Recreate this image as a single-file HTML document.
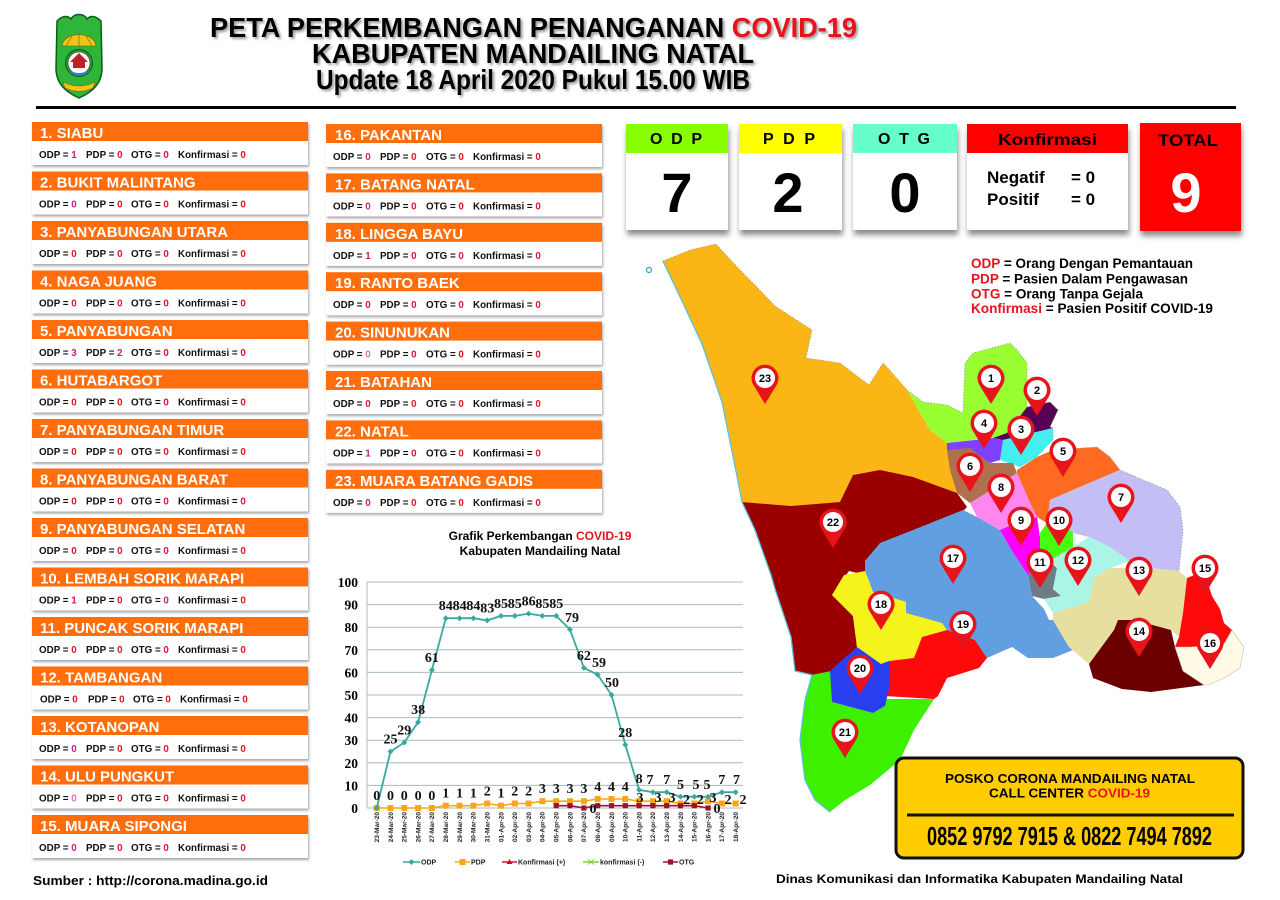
<!DOCTYPE html>
<html><head><meta charset="utf-8"><title>Peta Perkembangan COVID-19 Mandailing Natal</title>
<style>
html,body{margin:0;padding:0;background:#fff;}
svg{display:block;}
.sans{font-family:"Liberation Sans",Arial,sans-serif;font-weight:bold;}
.h{font-family:"Liberation Sans",Arial,sans-serif;font-weight:bold;font-size:15px;fill:#fff;}
.b{font-family:"Liberation Sans",Arial,sans-serif;font-weight:bold;font-size:9.8px;fill:#111;}
.r{fill:#e0142a;} .m{fill:#c21f8a;}
.ser{font-family:"Liberation Serif","Times New Roman",serif;}
.pn{font-family:"Liberation Sans",Arial,sans-serif;font-weight:bold;font-size:11px;fill:#000;text-anchor:middle;}
.xl{font-family:"Liberation Sans",Arial,sans-serif;font-weight:bold;font-size:6.5px;fill:#222;text-anchor:end;}
.lg{font-family:"Liberation Sans",Arial,sans-serif;font-weight:bold;font-size:7px;fill:#222;}
</style></head>
<body>
<svg width="1280" height="900" viewBox="0 0 1280 900" xmlns="http://www.w3.org/2000/svg">
<defs>
<filter id="cs" x="-5%" y="-10%" width="112%" height="140%"><feDropShadow dx="1" dy="2" stdDeviation="1.2" flood-color="#000" flood-opacity="0.35"/></filter>
<filter id="bs" x="-10%" y="-10%" width="125%" height="130%"><feDropShadow dx="1" dy="5" stdDeviation="3" flood-color="#000" flood-opacity="0.45"/></filter>
<filter id="tb" x="-5%" y="-30%" width="110%" height="160%"><feGaussianBlur stdDeviation="1.2"/></filter>
<g id="pin"><path d="M0,26 L-11,8 A13.5 13.5 0 1 1 11,8 Z" fill="#e8141c"/><circle cx="0" cy="0" r="10" fill="#fff"/></g>
<path id="dm" d="M0,-3 L3,0 L0,3 L-3,0Z" fill="#3aa99c"/>
<rect id="sq" x="-3" y="-3" width="6" height="6" fill="#f9a61a"/>
<rect id="oq" x="-2.6" y="-2.6" width="5.2" height="5.2" fill="#a0102a"/>
</defs>

<rect width="1280" height="900" fill="#fff"/>

<!-- Logo -->
<g>
<path d="M57,21 C62,16 67,15 71,19 C74,13 84,13 87,19 C91,15 96,16 101,21 L102,68 C102,84 92,92 79,98 C66,92 56,84 56,68 Z" fill="#2fb53a" stroke="#0b5d16" stroke-width="1.5"/>
<path d="M62,46 C63,31 95,31 96,46 Z" fill="#f3c21a" stroke="#7a5a00" stroke-width=".6"/>
<path d="M66,46 L72,36 M79,46 L79,34 M92,46 L86,36" stroke="#7a5a00" stroke-width=".6"/>
<ellipse cx="79" cy="63" rx="13.5" ry="13.5" fill="#2a9a35" stroke="#0b5d16"/>
<ellipse cx="79" cy="63" rx="11" ry="11" fill="#fff" stroke="#333" stroke-width=".6"/>
<path d="M70,62 L79,53 L88,62 L85,62 L85,68 L73,68 L73,62Z" fill="#c0202a"/>
<path d="M69,70 Q79,76 89,70 L89,72 Q79,79 69,72Z" fill="#3a7ad0"/>
<path d="M63,82 Q79,90 95,82 L93,88 Q79,95 65,88 Z" fill="#f3c21a" stroke="#7a5a00" stroke-width=".5"/>
</g>

<!-- Title -->
<g class="sans" font-size="28">
<g filter="url(#tb)" fill="#9a9a9a">
<text x="212" y="39" textLength="647" lengthAdjust="spacingAndGlyphs">PETA PERKEMBANGAN PENANGANAN COVID-19</text>
<text x="314" y="65" textLength="442" lengthAdjust="spacingAndGlyphs">KABUPATEN MANDAILING NATAL</text>
<text x="318" y="91" textLength="434" lengthAdjust="spacingAndGlyphs">Update 18 April 2020 Pukul 15.00 WIB</text>
</g>
<text x="210" y="37" textLength="647" lengthAdjust="spacingAndGlyphs" fill="#000">PETA PERKEMBANGAN PENANGANAN <tspan fill="#e8121c">COVID-19</tspan></text>
<text x="312" y="63" textLength="442" lengthAdjust="spacingAndGlyphs" fill="#000">KABUPATEN MANDAILING NATAL</text>
<text x="316" y="89" textLength="434" lengthAdjust="spacingAndGlyphs" fill="#000">Update 18 April 2020 Pukul 15.00 WIB</text>
</g>
<rect x="36" y="106" width="1200" height="3" fill="#000"/>

<!-- Left column cards -->
<g transform="translate(32,122)"><rect width="276" height="43" fill="#fff" filter="url(#cs)"/><rect width="276" height="19" fill="#ff6d0c"/><text class="h" x="8" y="16">1. SIABU</text><text class="b" y="36"><tspan x="7">ODP = </tspan><tspan class="m">1</tspan><tspan x="54">PDP = </tspan><tspan class="r">0</tspan><tspan x="99">OTG = </tspan><tspan class="r">0</tspan><tspan x="146">Konfirmasi = </tspan><tspan class="r">0</tspan></text></g>
<g transform="translate(32,171.5)"><rect width="276" height="43" fill="#fff" filter="url(#cs)"/><rect width="276" height="19" fill="#ff6d0c"/><text class="h" x="8" y="16">2. BUKIT MALINTANG</text><text class="b" y="36"><tspan x="7">ODP = </tspan><tspan class="m">0</tspan><tspan x="54">PDP = </tspan><tspan class="r">0</tspan><tspan x="99">OTG = </tspan><tspan class="r">0</tspan><tspan x="146">Konfirmasi = </tspan><tspan class="r">0</tspan></text></g>
<g transform="translate(32,221)"><rect width="276" height="43" fill="#fff" filter="url(#cs)"/><rect width="276" height="19" fill="#ff6d0c"/><text class="h" x="8" y="16">3. PANYABUNGAN UTARA</text><text class="b" y="36"><tspan x="7">ODP = </tspan><tspan class="r">0</tspan><tspan x="54">PDP = </tspan><tspan class="r">0</tspan><tspan x="99">OTG = </tspan><tspan class="r">0</tspan><tspan x="146">Konfirmasi = </tspan><tspan class="r">0</tspan></text></g>
<g transform="translate(32,270.5)"><rect width="276" height="43" fill="#fff" filter="url(#cs)"/><rect width="276" height="19" fill="#ff6d0c"/><text class="h" x="8" y="16">4. NAGA JUANG</text><text class="b" y="36"><tspan x="7">ODP = </tspan><tspan class="r">0</tspan><tspan x="54">PDP = </tspan><tspan class="r">0</tspan><tspan x="99">OTG = </tspan><tspan class="r">0</tspan><tspan x="146">Konfirmasi = </tspan><tspan class="r">0</tspan></text></g>
<g transform="translate(32,320)"><rect width="276" height="43" fill="#fff" filter="url(#cs)"/><rect width="276" height="19" fill="#ff6d0c"/><text class="h" x="8" y="16">5. PANYABUNGAN</text><text class="b" y="36"><tspan x="7">ODP = </tspan><tspan class="m">3</tspan><tspan x="54">PDP = </tspan><tspan class="m">2</tspan><tspan x="99">OTG = </tspan><tspan class="r">0</tspan><tspan x="146">Konfirmasi = </tspan><tspan class="r">0</tspan></text></g>
<g transform="translate(32,369.5)"><rect width="276" height="43" fill="#fff" filter="url(#cs)"/><rect width="276" height="19" fill="#ff6d0c"/><text class="h" x="8" y="16">6. HUTABARGOT</text><text class="b" y="36"><tspan x="7">ODP = </tspan><tspan class="r">0</tspan><tspan x="54">PDP = </tspan><tspan class="r">0</tspan><tspan x="99">OTG = </tspan><tspan class="r">0</tspan><tspan x="146">Konfirmasi = </tspan><tspan class="r">0</tspan></text></g>
<g transform="translate(32,419)"><rect width="276" height="43" fill="#fff" filter="url(#cs)"/><rect width="276" height="19" fill="#ff6d0c"/><text class="h" x="8" y="16">7. PANYABUNGAN TIMUR</text><text class="b" y="36"><tspan x="7">ODP = </tspan><tspan class="r">0</tspan><tspan x="54">PDP = </tspan><tspan class="r">0</tspan><tspan x="99">OTG = </tspan><tspan class="r">0</tspan><tspan x="146">Konfirmasi = </tspan><tspan class="r">0</tspan></text></g>
<g transform="translate(32,468.5)"><rect width="276" height="43" fill="#fff" filter="url(#cs)"/><rect width="276" height="19" fill="#ff6d0c"/><text class="h" x="8" y="16">8. PANYABUNGAN BARAT</text><text class="b" y="36"><tspan x="7">ODP = </tspan><tspan class="r">0</tspan><tspan x="54">PDP = </tspan><tspan class="r">0</tspan><tspan x="99">OTG = </tspan><tspan class="r">0</tspan><tspan x="146">Konfirmasi = </tspan><tspan class="r">0</tspan></text></g>
<g transform="translate(32,518)"><rect width="276" height="43" fill="#fff" filter="url(#cs)"/><rect width="276" height="19" fill="#ff6d0c"/><text class="h" x="8" y="16">9. PANYABUNGAN SELATAN</text><text class="b" y="36"><tspan x="7">ODP = </tspan><tspan class="r">0</tspan><tspan x="54">PDP = </tspan><tspan class="r">0</tspan><tspan x="99">OTG = </tspan><tspan class="r">0</tspan><tspan x="146">Konfirmasi = </tspan><tspan class="r">0</tspan></text></g>
<g transform="translate(32,567.5)"><rect width="276" height="43" fill="#fff" filter="url(#cs)"/><rect width="276" height="19" fill="#ff6d0c"/><text class="h" x="8" y="16">10. LEMBAH SORIK MARAPI</text><text class="b" y="36"><tspan x="7">ODP = </tspan><tspan class="r">1</tspan><tspan x="54">PDP = </tspan><tspan class="r">0</tspan><tspan x="99">OTG = </tspan><tspan class="m">0</tspan><tspan x="146">Konfirmasi = </tspan><tspan class="r">0</tspan></text></g>
<g transform="translate(32,617)"><rect width="276" height="43" fill="#fff" filter="url(#cs)"/><rect width="276" height="19" fill="#ff6d0c"/><text class="h" x="8" y="16">11. PUNCAK SORIK MARAPI</text><text class="b" y="36"><tspan x="7">ODP = </tspan><tspan class="r">0</tspan><tspan x="54">PDP = </tspan><tspan class="r">0</tspan><tspan x="99">OTG = </tspan><tspan class="r">0</tspan><tspan x="146">Konfirmasi = </tspan><tspan class="r">0</tspan></text></g>
<g transform="translate(32,666.5)"><rect width="276" height="43" fill="#fff" filter="url(#cs)"/><rect width="276" height="19" fill="#ff6d0c"/><text class="h" x="8" y="16">12. TAMBANGAN</text><text class="b" y="36"><tspan x="8">ODP = </tspan><tspan class="r">0</tspan><tspan x="56">PDP = </tspan><tspan class="r">0</tspan><tspan x="101">OTG = </tspan><tspan class="r">0</tspan><tspan x="148">Konfirmasi = </tspan><tspan class="r">0</tspan></text></g>
<g transform="translate(32,716)"><rect width="276" height="43" fill="#fff" filter="url(#cs)"/><rect width="276" height="19" fill="#ff6d0c"/><text class="h" x="8" y="16">13. KOTANOPAN</text><text class="b" y="36"><tspan x="7">ODP = </tspan><tspan class="m">0</tspan><tspan x="54">PDP = </tspan><tspan class="r">0</tspan><tspan x="99">OTG = </tspan><tspan class="r">0</tspan><tspan x="146">Konfirmasi = </tspan><tspan class="r">0</tspan></text></g>
<g transform="translate(32,765.5)"><rect width="276" height="43" fill="#fff" filter="url(#cs)"/><rect width="276" height="19" fill="#ff6d0c"/><text class="h" x="8" y="16">14. ULU PUNGKUT</text><text class="b" y="36"><tspan x="7">ODP = </tspan><tspan fill="#e070c0">0</tspan><tspan x="54">PDP = </tspan><tspan class="r">0</tspan><tspan x="99">OTG = </tspan><tspan class="r">0</tspan><tspan x="146">Konfirmasi = </tspan><tspan class="r">0</tspan></text></g>
<g transform="translate(32,815)"><rect width="276" height="43" fill="#fff" filter="url(#cs)"/><rect width="276" height="19" fill="#ff6d0c"/><text class="h" x="8" y="16">15. MUARA SIPONGI</text><text class="b" y="36"><tspan x="7">ODP = </tspan><tspan class="m">0</tspan><tspan x="54">PDP = </tspan><tspan class="r">0</tspan><tspan x="99">OTG = </tspan><tspan class="r">0</tspan><tspan x="146">Konfirmasi = </tspan><tspan class="r">0</tspan></text></g>

<!-- Middle column cards -->
<g transform="translate(326,124)"><rect width="276" height="43" fill="#fff" filter="url(#cs)"/><rect width="276" height="19" fill="#ff6d0c"/><text class="h" x="9" y="16">16. PAKANTAN</text><text class="b" y="36"><tspan x="7">ODP = </tspan><tspan class="m">0</tspan><tspan x="54">PDP = </tspan><tspan class="r">0</tspan><tspan x="100">OTG = </tspan><tspan class="r">0</tspan><tspan x="147">Konfirmasi = </tspan><tspan class="r">0</tspan></text></g>
<g transform="translate(326,173.4)"><rect width="276" height="43" fill="#fff" filter="url(#cs)"/><rect width="276" height="19" fill="#ff6d0c"/><text class="h" x="9" y="16">17. BATANG NATAL</text><text class="b" y="36"><tspan x="7">ODP = </tspan><tspan class="m">0</tspan><tspan x="54">PDP = </tspan><tspan class="r">0</tspan><tspan x="100">OTG = </tspan><tspan class="r">0</tspan><tspan x="147">Konfirmasi = </tspan><tspan class="r">0</tspan></text></g>
<g transform="translate(326,222.8)"><rect width="276" height="43" fill="#fff" filter="url(#cs)"/><rect width="276" height="19" fill="#ff6d0c"/><text class="h" x="9" y="16">18. LINGGA BAYU</text><text class="b" y="36"><tspan x="7">ODP = </tspan><tspan class="m">1</tspan><tspan x="54">PDP = </tspan><tspan class="r">0</tspan><tspan x="100">OTG = </tspan><tspan class="r">0</tspan><tspan x="147">Konfirmasi = </tspan><tspan class="r">0</tspan></text></g>
<g transform="translate(326,272.2)"><rect width="276" height="43" fill="#fff" filter="url(#cs)"/><rect width="276" height="19" fill="#ff6d0c"/><text class="h" x="9" y="16">19. RANTO BAEK</text><text class="b" y="36"><tspan x="7">ODP = </tspan><tspan class="r">0</tspan><tspan x="54">PDP = </tspan><tspan class="r">0</tspan><tspan x="100">OTG = </tspan><tspan class="r">0</tspan><tspan x="147">Konfirmasi = </tspan><tspan class="r">0</tspan></text></g>
<g transform="translate(326,321.6)"><rect width="276" height="43" fill="#fff" filter="url(#cs)"/><rect width="276" height="19" fill="#ff6d0c"/><text class="h" x="9" y="16">20. SINUNUKAN</text><text class="b" y="36"><tspan x="7">ODP = </tspan><tspan fill="#e070c0">0</tspan><tspan x="54">PDP = </tspan><tspan class="r">0</tspan><tspan x="100">OTG = </tspan><tspan class="r">0</tspan><tspan x="147">Konfirmasi = </tspan><tspan class="r">0</tspan></text></g>
<g transform="translate(326,371)"><rect width="276" height="43" fill="#fff" filter="url(#cs)"/><rect width="276" height="19" fill="#ff6d0c"/><text class="h" x="9" y="16">21. BATAHAN</text><text class="b" y="36"><tspan x="7">ODP = </tspan><tspan class="r">0</tspan><tspan x="54">PDP = </tspan><tspan class="r">0</tspan><tspan x="100">OTG = </tspan><tspan class="r">0</tspan><tspan x="147">Konfirmasi = </tspan><tspan class="r">0</tspan></text></g>
<g transform="translate(326,420.4)"><rect width="276" height="43" fill="#fff" filter="url(#cs)"/><rect width="276" height="19" fill="#ff6d0c"/><text class="h" x="9" y="16">22. NATAL</text><text class="b" y="36"><tspan x="7">ODP = </tspan><tspan class="m">1</tspan><tspan x="54">PDP = </tspan><tspan class="r">0</tspan><tspan x="100">OTG = </tspan><tspan class="r">0</tspan><tspan x="147">Konfirmasi = </tspan><tspan class="r">0</tspan></text></g>
<g transform="translate(326,469.8)"><rect width="276" height="43" fill="#fff" filter="url(#cs)"/><rect width="276" height="19" fill="#ff6d0c"/><text class="h" x="9" y="16">23. MUARA BATANG GADIS</text><text class="b" y="36"><tspan x="7">ODP = </tspan><tspan class="m">0</tspan><tspan x="54">PDP = </tspan><tspan class="r">0</tspan><tspan x="100">OTG = </tspan><tspan class="r">0</tspan><tspan x="147">Konfirmasi = </tspan><tspan class="r">0</tspan></text></g>

<!-- Stats boxes -->
<g class="sans">
<g filter="url(#bs)"><rect x="626" y="124" width="102" height="106" fill="#fff"/></g>
<rect x="626" y="124" width="102" height="29" fill="#88ff00"/>
<text x="650" y="144" font-size="16" textLength="52" lengthAdjust="spacing" fill="#000">O D P</text>
<text x="677" y="212" font-size="56" text-anchor="middle" fill="#000">7</text>

<g filter="url(#bs)"><rect x="739" y="124" width="103" height="106" fill="#fff"/></g>
<rect x="739" y="124" width="103" height="29" fill="#ffff00"/>
<text x="763" y="144" font-size="16" textLength="52" lengthAdjust="spacing" fill="#000">P D P</text>
<text x="788" y="212" font-size="56" text-anchor="middle" fill="#000">2</text>

<g filter="url(#bs)"><rect x="853" y="124" width="104" height="106" fill="#fff"/></g>
<rect x="853" y="124" width="104" height="29" fill="#66ffcc"/>
<text x="878" y="144" font-size="16" textLength="52" lengthAdjust="spacing" fill="#000">O T G</text>
<text x="905" y="212" font-size="56" text-anchor="middle" fill="#000">0</text>

<g filter="url(#bs)"><rect x="967" y="124" width="161" height="106" fill="#fff"/></g>
<rect x="967" y="124" width="161" height="29" fill="#ff0000"/>
<text x="998" y="145" font-size="16" textLength="99" lengthAdjust="spacingAndGlyphs" fill="#000">Konfirmasi</text>
<text y="183" font-size="17" fill="#000"><tspan x="987">Negatif</tspan><tspan x="1071">= 0</tspan></text>
<text y="205" font-size="17" fill="#000"><tspan x="987">Positif</tspan><tspan x="1071">= 0</tspan></text>

<g filter="url(#bs)"><rect x="1140" y="123" width="101" height="108" fill="#ff0000"/></g>
<text x="1158" y="146" font-size="17" textLength="60" lengthAdjust="spacingAndGlyphs" fill="#000">TOTAL</text>
<text x="1186" y="212" font-size="56" text-anchor="middle" fill="#fff">9</text>
</g>

<!-- Legend (definitions) -->
<g class="sans" font-size="13.5" fill="#000">
<text x="971" y="268" textLength="222" lengthAdjust="spacingAndGlyphs"><tspan fill="#e8121c">ODP</tspan> = Orang Dengan Pemantauan</text>
<text x="971" y="283.5" textLength="217" lengthAdjust="spacingAndGlyphs"><tspan fill="#e8121c">PDP</tspan> = Pasien Dalam Pengawasan</text>
<text x="971" y="298.5" textLength="172" lengthAdjust="spacingAndGlyphs"><tspan fill="#e8121c">OTG</tspan> = Orang Tanpa Gejala</text>
<text x="971" y="313" textLength="242" lengthAdjust="spacingAndGlyphs"><tspan fill="#e8121c">Konfirmasi</tspan> = Pasien Positif COVID-19</text>
</g>

<!-- Map -->
<g stroke="none">
<circle cx="649" cy="270" r="2.5" fill="none" stroke="#3a9fd0" stroke-width="1.2"/>
<!-- 23 -->
<polygon fill="#fbb616" points="663,261 690,250 716,244 738,268 755,285 775,306 812,330 806,358 840,363 869,385 883,363 887,367 907,390 930,430 947,443 950,463 957,493 967,507 926,485 881,470 853,475 840,502 791,506 742,502 736,471 722,402 702,344 681,299"/>
<!-- 22 -->
<polygon fill="#9a0000" points="742,502 791,506 840,502 853,475 880,470 913,477 957,493 967,507 957,517 906,533 881,544 865,561 865,575 849,571 832,595 853,616 857,647 832,671 812,675 795,671 791,637 775,589 771,575 755,530"/>
<!-- 17 -->
<polygon fill="#629fe0" points="865,561 880,543 913,530 963,510 977,517 1000,530 1012,551 1028,575 1032,596 1044,609 1049,620 1053,620 1069,647 1073,650 1053,658 1028,658 1012,647 987,658 975,640 947,630 906,613 906,602 873,592 865,571"/>
<!-- 18 -->
<polygon fill="#f4f41c" points="832,595 844,575 865,571 873,592 906,602 906,613 942,623 947,630 922,637 914,658 889,661 881,664 857,647 853,616"/>
<!-- 19 -->
<polygon fill="#ff0a0a" points="887,668 889,661 914,658 922,637 947,630 975,640 987,658 979,668 947,678 938,696 934,699 885,696"/>
<!-- 21 -->
<polygon fill="#3cf000" points="812,675 832,671 832,702 873,713 885,706 885,699 934,699 914,730 900,760 870,785 845,800 830,812 815,800 805,780 800,740 805,700"/>
<!-- 20 -->
<polygon fill="#2a40f0" points="830,671 857,647 881,664 889,661 889,689 885,706 873,713 832,702"/>
<!-- green chunk + 1 -->
<polygon fill="#99ff33" points="907,390 923,402 947,405 963,413 973,440 947,443 930,430"/>
<polygon fill="#99ff33" points="965,363 973,353 1010,343 1017,350 1027,363 1027,407 1007,433 993,438 973,440 963,413"/>
<!-- 2 -->
<polygon fill="#550055" points="993,438 1007,433 1027,407 1050,402 1058,410 1050,427 1053,428 1003,440"/>
<!-- 3 -->
<polygon fill="#44eeee" points="1003,440 1053,428 1053,440 1037,457 1020,467 1000,460"/>
<!-- 4 -->
<polygon fill="#8040ff" points="947,443 993,438 1003,440 1000,460 990,463 970,450 947,450"/>
<!-- 6 -->
<polygon fill="#b07050" points="947,450 970,448 990,463 1013,463 1017,473 980,497 970,503 957,493 950,470"/>
<!-- 5 -->
<polygon fill="#ff6a22" points="1017,470 1037,457 1053,450 1097,447 1110,457 1120,470 1073,490 1050,500 1047,523 1037,517 1030,503 1017,473"/>
<!-- 7 -->
<polygon fill="#c4bef6" points="1050,500 1073,490 1120,470 1167,490 1180,507 1183,530 1179,571 1147,568 1130,561 1110,547 1089,537 1073,533 1057,516 1047,523"/>
<!-- 8 -->
<polygon fill="#ff88f0" points="970,503 980,497 1017,473 1030,503 1037,517 1007,527 1000,530 977,517"/>
<!-- 9 -->
<polygon fill="#ff00ff" points="1000,530 1007,527 1037,517 1040,537 1040,561 1028,575 1012,551"/>
<!-- 10 -->
<polygon fill="#44ff11" points="1040,533 1047,523 1057,516 1073,533 1073,547 1049,561 1040,561"/>
<!-- 11 -->
<polygon fill="#6e7c86" points="1028,575 1040,561 1049,561 1057,568 1053,589 1061,596 1044,599 1032,596"/>
<!-- 12 -->
<polygon fill="#aaf5e5" points="1049,561 1073,547 1089,537 1110,547 1130,561 1110,568 1094,578 1089,602 1053,613 1044,599 1061,596 1053,589 1057,568"/>
<!-- 13 -->
<polygon fill="#e6dfa0" points="1094,578 1110,568 1147,568 1179,571 1187,578 1183,613 1179,637 1171,630 1134,620 1118,620 1114,630 1089,664 1069,647 1053,620 1053,613 1089,602"/>
<!-- 14 -->
<polygon fill="#6a0000" points="1118,620 1134,620 1171,630 1175,647 1183,671 1204,685 1151,692 1122,689 1093,678 1089,664 1114,630"/>
<!-- 15 -->
<polygon fill="#ff0a0a" points="1187,578 1204,571 1212,596 1220,609 1224,623 1232,630 1224,644 1191,647 1175,647 1179,637 1183,613"/>
<!-- 16 -->
<polygon fill="#fffbe6" stroke="#bbb" stroke-width=".6" points="1175,647 1191,647 1224,644 1232,630 1244,647 1240,668 1224,678 1208,685 1204,685 1183,671"/>
<!-- coast -->
<polyline fill="none" stroke="#5bc0de" stroke-width="1.3" points="663,261 681,299 702,344 722,402 736,471 742,502 755,530 771,575 775,589 791,637 795,671 812,675 805,700 800,740 805,780 815,800 830,812"/>
<polyline fill="none" stroke="#999" stroke-width="1" stroke-dasharray="1,2" points="663,261 690,250 716,244 738,268 755,285 775,306 812,330 806,358 840,363 869,385 883,363 887,367 907,390 923,402 947,405 963,413 965,363 973,353 1010,343 1017,350 1027,363 1027,407 1050,402 1058,410 1050,427 1053,428 1053,450 1097,447 1110,457 1120,470 1167,490 1180,507 1183,530 1179,571"/>
</g>

<!-- Pins -->
<g>
<use href="#pin" x="991" y="378"/><text class="pn" x="991" y="382">1</text>
<use href="#pin" x="1037" y="390"/><text class="pn" x="1037" y="394">2</text>
<use href="#pin" x="1021" y="429"/><text class="pn" x="1021" y="433">3</text>
<use href="#pin" x="984" y="423"/><text class="pn" x="984" y="427">4</text>
<use href="#pin" x="1063" y="451"/><text class="pn" x="1063" y="455">5</text>
<use href="#pin" x="970" y="466"/><text class="pn" x="970" y="470">6</text>
<use href="#pin" x="1121" y="497"/><text class="pn" x="1121" y="501">7</text>
<use href="#pin" x="1001" y="487"/><text class="pn" x="1001" y="491">8</text>
<use href="#pin" x="1021" y="520"/><text class="pn" x="1021" y="524">9</text>
<use href="#pin" x="1059" y="520"/><text class="pn" x="1059" y="524">10</text>
<use href="#pin" x="1040" y="562"/><text class="pn" x="1040" y="566">11</text>
<use href="#pin" x="1078" y="560"/><text class="pn" x="1078" y="564">12</text>
<use href="#pin" x="1139" y="570"/><text class="pn" x="1139" y="574">13</text>
<use href="#pin" x="1139" y="631"/><text class="pn" x="1139" y="635">14</text>
<use href="#pin" x="1205" y="568"/><text class="pn" x="1205" y="572">15</text>
<use href="#pin" x="1210" y="643"/><text class="pn" x="1210" y="647">16</text>
<use href="#pin" x="953" y="558"/><text class="pn" x="953" y="562">17</text>
<use href="#pin" x="881" y="604"/><text class="pn" x="881" y="608">18</text>
<use href="#pin" x="963" y="624"/><text class="pn" x="963" y="628">19</text>
<use href="#pin" x="860" y="668"/><text class="pn" x="860" y="672">20</text>
<use href="#pin" x="845" y="732"/><text class="pn" x="845" y="736">21</text>
<use href="#pin" x="833" y="522"/><text class="pn" x="833" y="526">22</text>
<use href="#pin" x="765" y="378"/><text class="pn" x="765" y="382">23</text>
</g>

<!-- Chart -->
<g>
<text class="sans" x="540" y="540" font-size="12" text-anchor="middle" fill="#000">Grafik Perkembangan <tspan fill="#e8121c">COVID-19</tspan></text>
<text class="sans" x="540" y="555" font-size="12" text-anchor="middle" fill="#000">Kabupaten Mandailing Natal</text>
<g stroke="#a8bcbc" stroke-width="1">
<line x1="367" y1="582" x2="743" y2="582"/>
<line x1="367" y1="604.6" x2="743" y2="604.6"/>
<line x1="367" y1="627.2" x2="743" y2="627.2"/>
<line x1="367" y1="649.8" x2="743" y2="649.8"/>
<line x1="367" y1="672.4" x2="743" y2="672.4"/>
<line x1="367" y1="695" x2="743" y2="695"/>
<line x1="367" y1="717.6" x2="743" y2="717.6"/>
<line x1="367" y1="740.2" x2="743" y2="740.2"/>
<line x1="367" y1="762.8" x2="743" y2="762.8"/>
<line x1="367" y1="785.4" x2="743" y2="785.4"/>
<line x1="367" y1="808" x2="743" y2="808"/>
<line x1="367" y1="582" x2="367" y2="808"/>
</g>
<g class="ser" font-size="13.5" font-weight="bold" text-anchor="end" fill="#000">
<text x="358" y="587">100</text><text x="358" y="609.6">90</text><text x="358" y="632.2">80</text><text x="358" y="654.8">70</text><text x="358" y="677.4">60</text><text x="358" y="700">50</text><text x="358" y="722.6">40</text><text x="358" y="745.2">30</text><text x="358" y="767.8">20</text><text x="358" y="790.4">10</text><text x="358" y="813">0</text>
</g>
<!-- PDP -->
<polyline fill="none" stroke="#f9a61a" stroke-width="1.6" points="376.7,808 390.5,808 404.3,808 418.1,808 431.9,808 445.8,805.7 459.6,805.7 473.4,805.7 487.2,803.5 501,805.7 514.8,803.5 528.6,803.5 542.4,801.2 556.2,801.2 570,801.2 583.9,801.2 597.7,799 611.5,799 625.3,799 639.1,801.2 652.9,801.2 666.7,801.2 680.5,803.5 694.3,803.5 708.1,801.2 721.9,803.5 735.7,803.5"/>
<g>
<use href="#sq" x="376.7" y="808"/><use href="#sq" x="390.5" y="808"/><use href="#sq" x="404.3" y="808"/><use href="#sq" x="418.1" y="808"/><use href="#sq" x="431.9" y="808"/><use href="#sq" x="445.8" y="805.7"/><use href="#sq" x="459.6" y="805.7"/><use href="#sq" x="473.4" y="805.7"/><use href="#sq" x="487.2" y="803.5"/><use href="#sq" x="501" y="805.7"/><use href="#sq" x="514.8" y="803.5"/><use href="#sq" x="528.6" y="803.5"/><use href="#sq" x="542.4" y="801.2"/><use href="#sq" x="556.2" y="801.2"/><use href="#sq" x="570" y="801.2"/><use href="#sq" x="583.9" y="801.2"/><use href="#sq" x="597.7" y="799"/><use href="#sq" x="611.5" y="799"/><use href="#sq" x="625.3" y="799"/><use href="#sq" x="639.1" y="801.2"/><use href="#sq" x="652.9" y="801.2"/><use href="#sq" x="666.7" y="801.2"/><use href="#sq" x="680.5" y="803.5"/><use href="#sq" x="694.3" y="803.5"/><use href="#sq" x="708.1" y="801.2"/><use href="#sq" x="721.9" y="803.5"/><use href="#sq" x="735.7" y="803.5"/>
</g>
<!-- OTG -->
<polyline fill="none" stroke="#a0102a" stroke-width="1.6" points="556.2,805.7 570,805.7 583.9,808 597.7,805.7 611.5,805.7 625.3,805.7 639.1,805.7 652.9,805.7 666.7,805.7 680.5,805.7 694.3,805.7 708.1,808"/>
<g>
<use href="#oq" x="556.2" y="805.7"/><use href="#oq" x="570" y="805.7"/><use href="#oq" x="583.9" y="808"/><use href="#oq" x="597.7" y="805.7"/><use href="#oq" x="611.5" y="805.7"/><use href="#oq" x="625.3" y="805.7"/><use href="#oq" x="639.1" y="805.7"/><use href="#oq" x="652.9" y="805.7"/><use href="#oq" x="666.7" y="805.7"/><use href="#oq" x="680.5" y="805.7"/><use href="#oq" x="694.3" y="805.7"/><use href="#oq" x="708.1" y="808"/>
</g>
<!-- ODP -->
<polyline fill="none" stroke="#3aa99c" stroke-width="1.8" points="376.7,808 390.5,751.5 404.3,742.5 418.1,722.1 431.9,670.1 445.8,618.2 459.6,618.2 473.4,618.2 487.2,620.4 501,615.9 514.8,615.9 528.6,613.6 542.4,615.9 556.2,615.9 570,629.5 583.9,667.9 597.7,674.7 611.5,695 625.3,744.7 639.1,789.9 652.9,792.2 666.7,792.2 680.5,796.7 694.3,796.7 708.1,796.7 721.9,792.2 735.7,792.2"/>
<g>
<use href="#dm" x="376.7" y="808"/><use href="#dm" x="390.5" y="751.5"/><use href="#dm" x="404.3" y="742.5"/><use href="#dm" x="418.1" y="722.1"/><use href="#dm" x="431.9" y="670.1"/><use href="#dm" x="445.8" y="618.2"/><use href="#dm" x="459.6" y="618.2"/><use href="#dm" x="473.4" y="618.2"/><use href="#dm" x="487.2" y="620.4"/><use href="#dm" x="501" y="615.9"/><use href="#dm" x="514.8" y="615.9"/><use href="#dm" x="528.6" y="613.6"/><use href="#dm" x="542.4" y="615.9"/><use href="#dm" x="556.2" y="615.9"/><use href="#dm" x="570" y="629.5"/><use href="#dm" x="583.9" y="667.9"/><use href="#dm" x="597.7" y="674.7"/><use href="#dm" x="611.5" y="695"/><use href="#dm" x="625.3" y="744.7"/><use href="#dm" x="639.1" y="789.9"/><use href="#dm" x="652.9" y="792.2"/><use href="#dm" x="666.7" y="792.2"/><use href="#dm" x="680.5" y="796.7"/><use href="#dm" x="694.3" y="796.7"/><use href="#dm" x="708.1" y="796.7"/><use href="#dm" x="721.9" y="792.2"/><use href="#dm" x="735.7" y="792.2"/>
</g>
<!-- ODP labels -->
<g class="ser" font-size="14" font-weight="bold" text-anchor="middle" fill="#111">
<text x="376.7" y="800">0</text><text x="390.5" y="743.5">25</text><text x="404.3" y="734.5">29</text><text x="418.1" y="714">38</text><text x="431.9" y="662">61</text>
<text x="445.8" y="610">84</text><text x="459.6" y="610">84</text><text x="473.4" y="610">84</text><text x="487.2" y="612.4">83</text><text x="501" y="608">85</text><text x="514.8" y="608">85</text><text x="528.6" y="605.6">86</text><text x="542.4" y="608">85</text><text x="556.2" y="608">85</text>
<text x="572" y="622">79</text><text x="583.9" y="660">62</text><text x="599" y="667">59</text><text x="612" y="687">50</text><text x="625.3" y="737">28</text>
<text x="639.1" y="783">8</text><text x="650" y="784">7</text><text x="666.7" y="784">7</text><text x="680.5" y="789">5</text><text x="696" y="789">5</text><text x="707" y="789">5</text><text x="721.9" y="784">7</text><text x="736.5" y="784">7</text>
<!-- PDP labels -->
<text x="390.5" y="800">0</text><text x="404.3" y="800">0</text><text x="418.1" y="800">0</text><text x="431.9" y="800">0</text>
<text x="445.8" y="797.7">1</text><text x="459.6" y="797.7">1</text><text x="473.4" y="797.7">1</text><text x="487.2" y="795.5">2</text><text x="501" y="797.7">1</text><text x="514.8" y="795.5">2</text><text x="528.6" y="795.5">2</text>
<text x="542.4" y="793.2">3</text><text x="556.2" y="793.2">3</text><text x="570" y="793.2">3</text><text x="583.9" y="793.2">3</text><text x="597.7" y="791">4</text><text x="611.5" y="791">4</text><text x="625.3" y="791">4</text>
<text x="640" y="802">3</text><text x="658" y="802">3</text><text x="672" y="802">3</text><text x="686.5" y="804">2</text><text x="700.3" y="804">2</text><text x="713" y="802">3</text><text x="728" y="804">2</text><text x="743" y="804">2</text>
<!-- OTG labels -->
<text x="593" y="813">0</text><text x="717" y="813">0</text>
</g>
<!-- X labels -->
<g>
<text class="xl" transform="translate(379,812) rotate(-90)">23-Mar-20</text>
<text class="xl" transform="translate(392.8,812) rotate(-90)">24-Mar-20</text>
<text class="xl" transform="translate(406.6,812) rotate(-90)">25-Mar-20</text>
<text class="xl" transform="translate(420.4,812) rotate(-90)">26-Mar-20</text>
<text class="xl" transform="translate(434.2,812) rotate(-90)">27-Mar-20</text>
<text class="xl" transform="translate(448.1,812) rotate(-90)">28-Mar-20</text>
<text class="xl" transform="translate(461.9,812) rotate(-90)">29-Mar-20</text>
<text class="xl" transform="translate(475.7,812) rotate(-90)">30-Mar-20</text>
<text class="xl" transform="translate(489.5,812) rotate(-90)">31-Mar-20</text>
<text class="xl" transform="translate(503.3,812) rotate(-90)">01-Apr-20</text>
<text class="xl" transform="translate(517.1,812) rotate(-90)">02-Apr-20</text>
<text class="xl" transform="translate(530.9,812) rotate(-90)">03-Apr-20</text>
<text class="xl" transform="translate(544.7,812) rotate(-90)">04-Apr-20</text>
<text class="xl" transform="translate(558.5,812) rotate(-90)">05-Apr-20</text>
<text class="xl" transform="translate(572.3,812) rotate(-90)">06-Apr-20</text>
<text class="xl" transform="translate(586.2,812) rotate(-90)">07-Apr-20</text>
<text class="xl" transform="translate(600,812) rotate(-90)">08-Apr-20</text>
<text class="xl" transform="translate(613.8,812) rotate(-90)">09-Apr-20</text>
<text class="xl" transform="translate(627.6,812) rotate(-90)">10-Apr-20</text>
<text class="xl" transform="translate(641.4,812) rotate(-90)">11-Apr-20</text>
<text class="xl" transform="translate(655.2,812) rotate(-90)">12-Apr-20</text>
<text class="xl" transform="translate(669,812) rotate(-90)">13-Apr-20</text>
<text class="xl" transform="translate(682.8,812) rotate(-90)">14-Apr-20</text>
<text class="xl" transform="translate(696.6,812) rotate(-90)">15-Apr-20</text>
<text class="xl" transform="translate(710.4,812) rotate(-90)">16-Apr-20</text>
<text class="xl" transform="translate(724.2,812) rotate(-90)">17-Apr-20</text>
<text class="xl" transform="translate(738,812) rotate(-90)">18-Apr-20</text>
</g>
<!-- Chart legend -->
<g>
<line x1="403" y1="862" x2="420" y2="862" stroke="#3aa99c" stroke-width="1.5"/><use href="#dm" x="411.5" y="862"/><text class="lg" x="421" y="864.5">ODP</text>
<line x1="455" y1="862" x2="470" y2="862" stroke="#f9a61a" stroke-width="1.5"/><use href="#sq" x="462.5" y="862"/><text class="lg" x="471" y="864.5">PDP</text>
<line x1="502" y1="862" x2="517" y2="862" stroke="#d01030" stroke-width="1.5"/><path d="M509.5,859 L512.5,864 L506.5,864Z" fill="#d01030"/><text class="lg" x="518" y="864.5">Konfirmasi (+)</text>
<line x1="583" y1="862" x2="599" y2="862" stroke="#88cc33" stroke-width="1.5"/><path d="M588,859.5 L594,864.5 M594,859.5 L588,864.5" stroke="#88cc33"/><text class="lg" x="600" y="864.5">konfirmasi (-)</text>
<line x1="663" y1="862" x2="678" y2="862" stroke="#a0102a" stroke-width="1.5"/><use href="#oq" x="670.5" y="862"/><text class="lg" x="679" y="864.5">OTG</text>
</g>
</g>

<!-- Posko box -->
<g class="sans">
<rect x="896" y="758" width="347" height="100" rx="8" fill="#ffcc00" stroke="#111" stroke-width="3"/>
<text x="945" y="783" font-size="12.5" textLength="250" lengthAdjust="spacingAndGlyphs" fill="#000">POSKO CORONA MANDAILING NATAL</text>
<text x="989" y="797.5" font-size="12.5" textLength="161" lengthAdjust="spacingAndGlyphs" fill="#000">CALL CENTER <tspan fill="#e8121c">COVID-19</tspan></text>
<rect x="907" y="813.5" width="327" height="3" fill="#111"/>
<text x="927" y="845" font-size="26" textLength="285" lengthAdjust="spacingAndGlyphs" fill="#000">0852 9792 7915 &amp; 0822 7494 7892</text>
</g>

<!-- Footer -->
<g class="sans" fill="#000">
<text x="33" y="885" font-size="12.5" textLength="235" lengthAdjust="spacingAndGlyphs">Sumber : http://corona.madina.go.id</text>
<text x="776" y="883" font-size="11.5" textLength="407" lengthAdjust="spacingAndGlyphs">Dinas Komunikasi dan Informatika Kabupaten Mandailing Natal</text>
</g>
</svg>
</body></html>
